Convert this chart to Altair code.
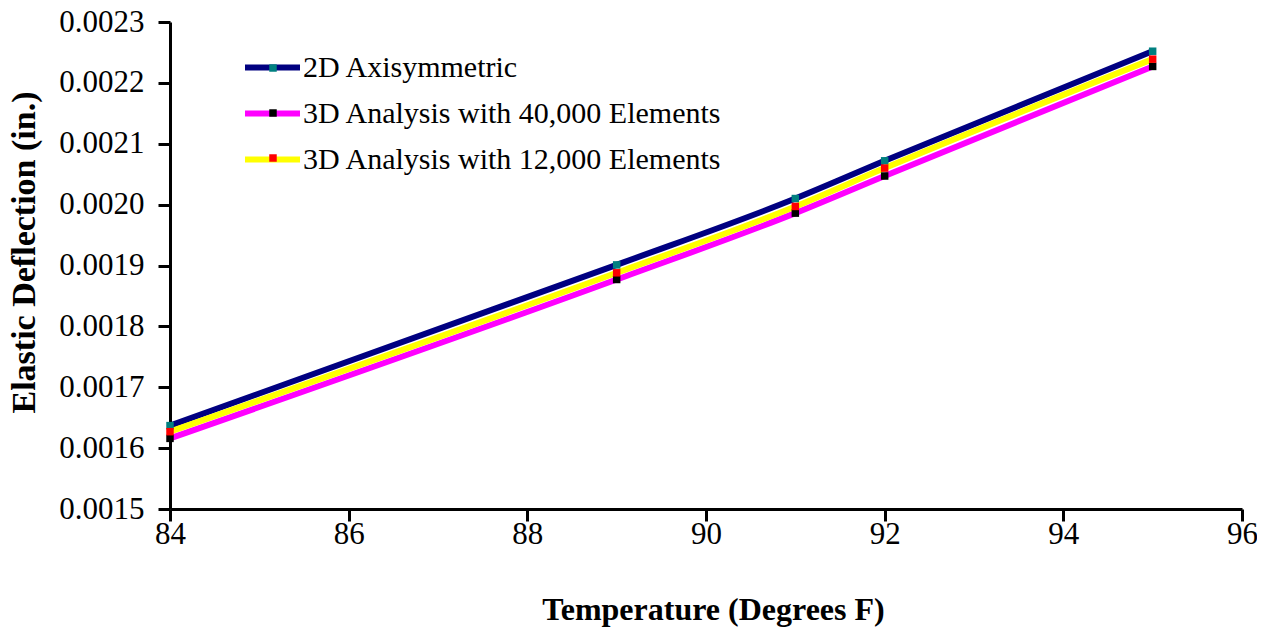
import altair as alt
import pandas as pd

temperature = [84, 89, 91, 92, 95]
axisym_2d = [0.001637, 0.001901, 0.002010, 0.002072, 0.002252]
elements_40k = [0.001616, 0.001877, 0.001986, 0.002047, 0.002227]
elements_12k = [0.001627, 0.001888, 0.001997, 0.002060, 0.002239]

series_names = [
    "2D Axisymmetric",
    "3D Analysis with 40,000 Elements",
    "3D Analysis with 12,000 Elements",
]
line_colors = ["#000080", "#FF00FF", "#FFFF00"]
marker_colors = ["#008080", "#000000", "#FF0000"]
x_ticks = [84, 86, 88, 90, 92, 94, 96]
y_ticks = [0.0015, 0.0016, 0.0017, 0.0018, 0.0019, 0.0020, 0.0021, 0.0022, 0.0023]

rows = []
for name, vals in zip(series_names, [axisym_2d, elements_40k, elements_12k]):
    for t, v in zip(temperature, vals):
        rows.append({"temp": t, "defl": v, "series": name, "marker": name})
df = pd.DataFrame(rows)

FONT = "Liberation Serif"

x_enc = alt.X(
    "temp:Q",
    scale=alt.Scale(domain=[84, 96], nice=False, zero=False),
    axis=alt.Axis(values=x_ticks, title="Temperature (Degrees F)", format="d",
                  labelPadding=-2, titlePadding=45, labelFlush=False,
                  titleX=543, titleFontSize=32),
)
y_enc = alt.Y(
    "defl:Q",
    scale=alt.Scale(domain=[0.0015, 0.0023], nice=False, zero=False),
    axis=alt.Axis(values=y_ticks, title="Elastic Deflection (in.)", format=".4f",
                  labelPadding=14, titlePadding=17, labelFlush=False,
                  titleY=230, titleFontSize=34),
)

LEG_X = 72

lines = alt.Chart(df).mark_line(
    strokeWidth=6, interpolate="monotone", strokeCap="round", strokeJoin="round"
).encode(
    x=x_enc,
    y=y_enc,
    stroke=alt.Stroke(
        "series:N",
        scale=alt.Scale(domain=series_names, range=line_colors),
        legend=alt.Legend(
            title=None, orient="none", legendX=LEG_X, legendY=15,
            symbolType="stroke", symbolSize=3025, symbolStrokeWidth=6,
            labelFont=FONT, labelFontSize=30, labelColor="black",
            labelOffset=0, rowPadding=0, padding=0, labelLimit=600,
        ),
    ),
)

points = alt.Chart(df).mark_square(size=56, opacity=1, strokeWidth=0).encode(
    x=x_enc,
    y=y_enc,
    fill=alt.Fill(
        "marker:N",
        sort=series_names,
        scale=alt.Scale(range=marker_colors),
        legend=alt.Legend(
            title=None, orient="none", legendX=LEG_X, legendY=31,
            symbolType="square", symbolSize=56, symbolStrokeWidth=0,
            symbolOpacity=1, symbolOffset=16,
            labelFont=FONT, labelFontSize=30, labelOpacity=0,
            labelExpr="' '",
            labelOffset=0, rowPadding=15, padding=0, labelLimit=600,
        ),
    ),
)

chart = alt.layer(lines, points).properties(
    width=1072,
    height=487,
    autosize=alt.AutoSizeParams(type="none"),
    padding={"left": 162, "top": 14, "right": 15, "bottom": 118},
).configure(
    font=FONT
).configure_view(
    stroke=None
).configure_axis(
    grid=False,
    domainColor="black",
    domainWidth=3,
    tickColor="black",
    tickWidth=3,
    tickSize=12,
    labelFont=FONT,
    labelFontSize=31,
    labelColor="black",
    titleFont=FONT,
    titleFontWeight="bold",
    titleColor="black",
).configure_legend(
    labelFont=FONT
)

chart.save("out.html", embed_options={"renderer": "svg", "actions": False})
